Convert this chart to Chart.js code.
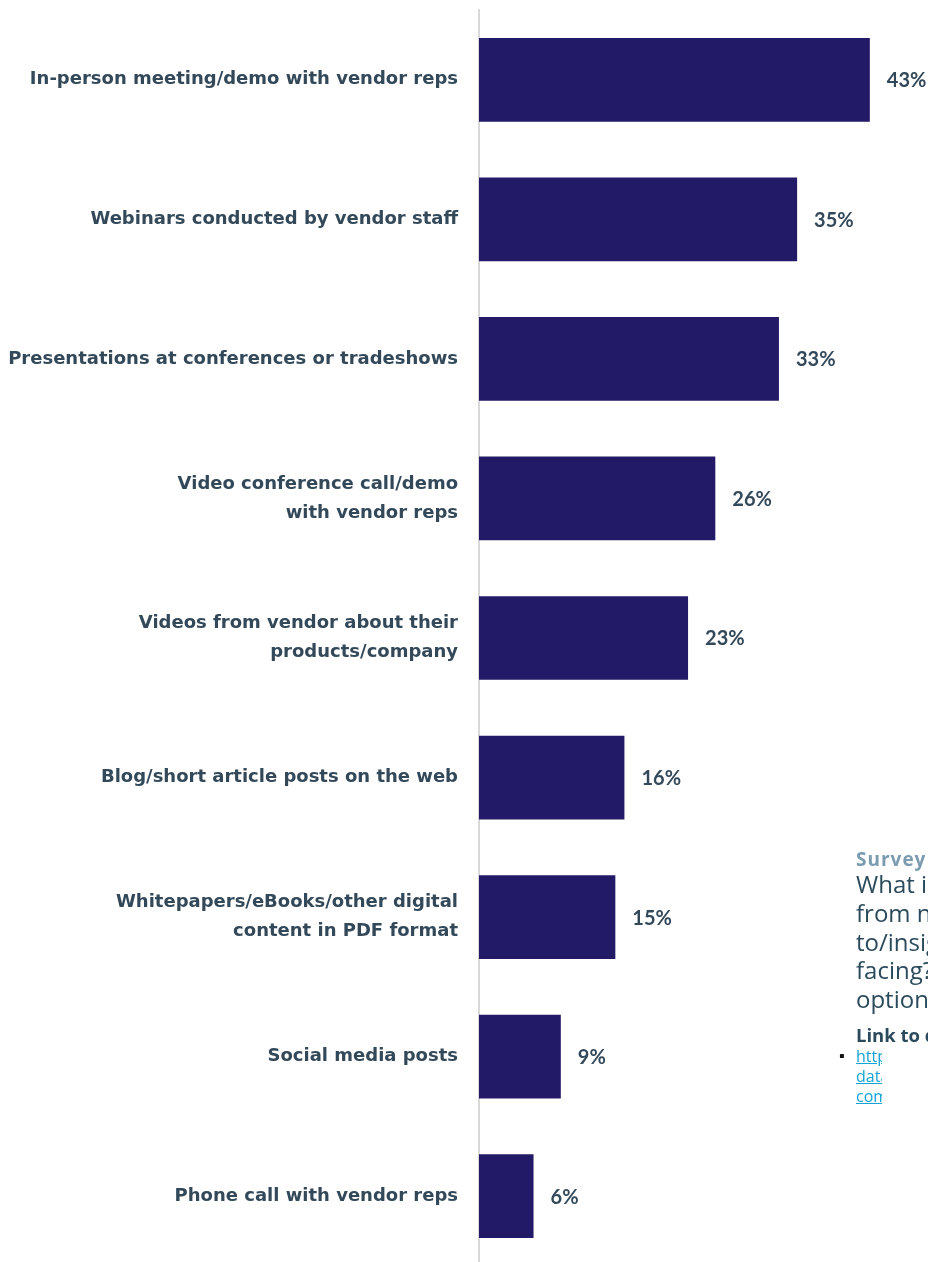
<!DOCTYPE html>
<html>
<head>
<meta charset="utf-8">
<script src="https://cdn.jsdelivr.net/npm/chart.js@4"></script>
<style>
  html, body { margin: 0; padding: 0; background: #fff; overflow: hidden; width: 928px; height: 1262px; }
  #wrap { position: absolute; left: 0; top: 0; width: 928px; height: 1266px; }
  .note { position: absolute; left: 856px; top: 846px; width: 400px; white-space: nowrap; color: #2b4a5c; font-family: "Open Sans", sans-serif; }
  .note .q { font-weight: bold; color: #7a9bb0; font-size: 19px; letter-spacing: 1px; line-height: 26px; }
  .note .body { font-size: 24px; line-height: 28.8px; margin-top: -2px; }
  .note .lnk { font-weight: bold; font-size: 18.5px; margin-top: 10px; line-height: 22px; }
  .note .url { position: relative; font-size: 16px; line-height: 20px; color: #14a3d6; }
  .note .url span { display: block; width: 26px; overflow: hidden; text-decoration: underline; }
  .note .url:before { content: "\25AA"; position: absolute; left: -17px; top: -1px; color: #111; }
</style>
</head>
<body>
<div id="wrap"><canvas id="chart-1"></canvas></div>

<div class="note">
  <div class="q">Survey question:</div>
  <div class="body">What is the most useful way<br>from new vendors to get<br>to/insight into the challenges<br>facing? (Select all that apply)<br>options</div>
  <div class="lnk">Link to data:</div>
  <div class="url"><span>https://</span><span>data.</span><span>com/</span></div>
</div>

<script>
//////////////////////////////////////////////// Chart-1
const ctx1 = document.getElementById('chart-1');

labels1 = [
    'In-person meeting/demo with vendor reps',
    'Webinars conducted by vendor staff',
    'Presentations at conferences or tradeshows',
    ['Video conference call/demo', 'with vendor reps'],
    ['Videos from vendor about their', 'products/company'],
    'Blog/short article posts on the web',
    ['Whitepapers/eBooks/other digital', 'content in PDF format'],
    'Social media posts',
    'Phone call with vendor reps'
]
data1 = [43, 35, 33, 26, 23, 16, 15, 9, 6]

// value text to the right of each bar
const valueLabels = {
    id: 'valueLabels',
    afterDatasetsDraw(chart) {
        const c = chart.ctx;
        const meta = chart.getDatasetMeta(0);
        c.save();
        c.font = 'bold 20px Lato, sans-serif';
        c.fillStyle = '#33495a';
        c.textAlign = 'left';
        c.textBaseline = 'middle';
        meta.data.forEach((bar, i) => {
            c.fillText(data1[i] + '%', bar.x + 17, bar.y + 1);
        });
        c.restore();
    }
};

new Chart(ctx1, {
    type: 'bar',
    data: {
        labels: labels1,
        datasets: [{
            data: data1,
            backgroundColor: '#221a66',
            barPercentage: 0.6,
            categoryPercentage: 1
        }]
    },
    options: {
        indexAxis: 'y',
        maintainAspectRatio: false,
        responsive: true,
        animation: false,
        layout: { padding: { top: 10, right: 0, bottom: 0, left: 0 } },
        scales: {
            x: {
                display: false,
                min: 0,
                max: 49.4
            },
            y: {
                afterFit(scale) {
                    scale.width = 479;
                    scale.paddingTop = 0;
                    scale.paddingBottom = 0;
                },
                grid: { display: false, drawTicks: false },
                border: { display: true, color: '#d9d9d9', width: 2 },
                ticks: {
                    padding: 21,
                    color: '#33495a',
                    font: { family: 'DejaVu Sans', weight: 'bold', size: 18, lineHeight: 1.6 }
                }
            }
        },
        plugins: {
            legend: { display: false },
            tooltip: { enabled: false }
        }
    },
    plugins: [valueLabels]
});
</script>
</body>
</html>
